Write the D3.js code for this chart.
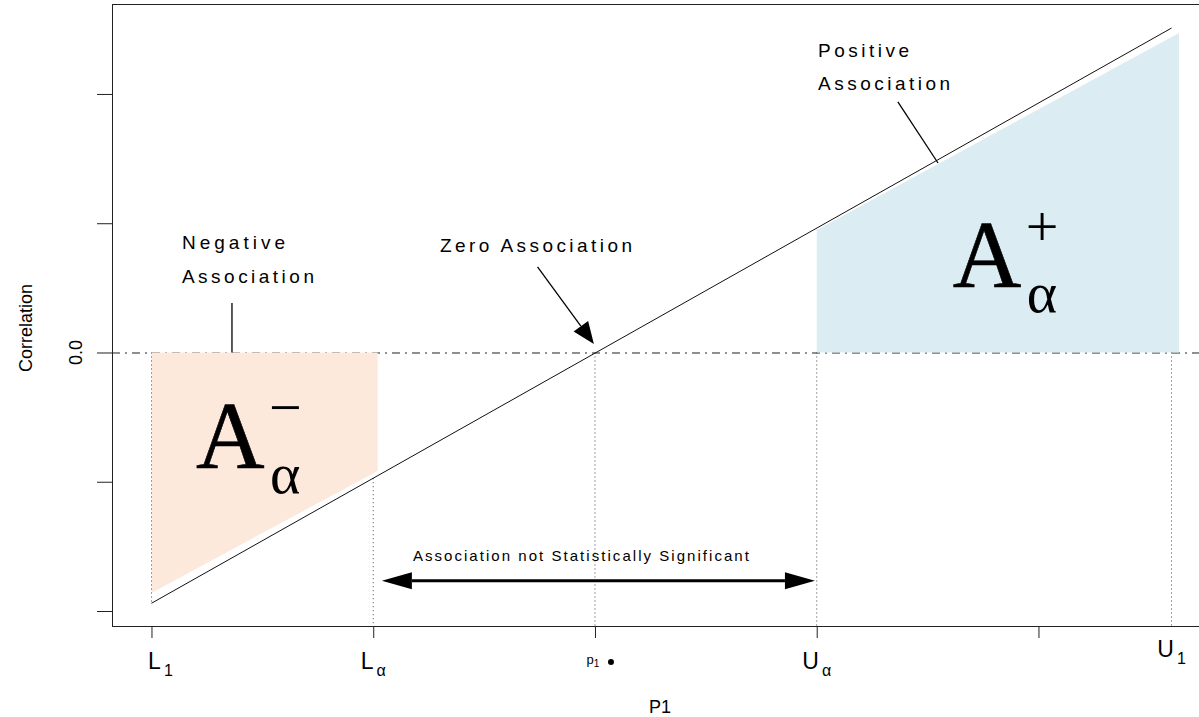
<!DOCTYPE html>
<html>
<head>
<meta charset="utf-8">
<script src="https://cdn.jsdelivr.net/npm/d3@7"></script>
<style>
  body { margin: 0; background: #fff; }
  svg { display: block; }
  text { font-family: "Liberation Sans", Arial, sans-serif; fill: #000; }
  .big { font-family: "Liberation Serif", "Times New Roman", serif; fill: #000; }
</style>
</head>
<body>
<div id="chart"></div>
<script>
// cut points along P1 (in tick units) and their labels
let cutoffs = [0, 1, 2, 3, 4.6];
let cutoffMain = ["L", "L", "p", "U", "U"];
let cutoffSub = ["1", "α", "1", "α", "1"];

let xTicks = [0, 1, 2, 3, 4];
let yTicks = [-1, -0.5, 0, 0.5, 1];
let yTickLabels = ["", "", "0.0", "", ""];

// correlation line end points
let lineP1 = [0, 4.6];
let lineCorr = [-0.97, 1.255];

// shaded regions (p1, correlation)
let negRegion = [[0, 0], [1.02, 0], [1.02, -0.458], [0, -0.93]];
let posRegion = [[3.0, 0], [3.0, 0.474], [4.634, 1.236], [4.634, 0]];


class AssociationChart {

    constructor(parentElement) {
        this.parentElement = parentElement;
        this.initVis();
    }

    initVis() {
        let vis = this;

        vis.width = 1199;
        vis.height = 717;
        vis.plot = {left: 112, top: 4, right: 1205, bottom: 626};

        vis.svg = d3.select("#" + vis.parentElement).append("svg")
            .attr("width", vis.width)
            .attr("height", vis.height);

        vis.x = d3.scaleLinear()
            .domain([-0.178, 4.751])
            .range([vis.plot.left, vis.plot.right]);

        vis.y = d3.scaleLinear()
            .domain([-1.058, 1.348])
            .range([vis.plot.bottom, vis.plot.top]);

        // straight line through the two end points
        vis.lineAt = d3.scaleLinear().domain(lineP1).range(lineCorr);

        vis.updateVis();
    }

    arrow(x1, y1, x2, y2, head, half, width, both) {
        let vis = this;
        let ang = Math.atan2(y2 - y1, x2 - x1);
        let c = Math.cos(ang), s = Math.sin(ang);

        let sx = both ? x1 + head * c : x1, sy = both ? y1 + head * s : y1;
        let ex = x2 - head * c, ey = y2 - head * s;

        vis.svg.append("line")
            .attr("x1", sx).attr("y1", sy)
            .attr("x2", ex).attr("y2", ey)
            .attr("stroke", "#000")
            .attr("stroke-width", width);

        let heads = [[x2, y2, ex, ey]];
        if (both) heads.push([x1, y1, sx, sy]);

        heads.forEach(([tx, ty, bx, by]) => {
            vis.svg.append("polygon")
                .attr("points", [
                    [tx, ty],
                    [bx + half * s, by - half * c],
                    [bx - half * s, by + half * c]
                ].map(p => p.join(",")).join(" "))
                .attr("fill", "#000");
        });
    }

    note(text, px, py, len, size) {
        let vis = this;
        vis.svg.append("text")
            .attr("x", vis.x(px))
            .attr("y", vis.y(py))
            .attr("textLength", len)
            .attr("lengthAdjust", "spacing")
            .style("font-size", size + "px")
            .text(text);
    }

    bigA(px, py, sign) {
        let vis = this;
        let ax = vis.x(px), ay = vis.y(py);

        vis.svg.append("text").attr("class", "big")
            .attr("x", ax).attr("y", ay)
            .style("font-size", "95px")
            .attr("stroke", "#000").attr("stroke-width", 0.6)
            .text("A");

        vis.svg.append("text").attr("class", "big")
            .attr("x", ax + 74).attr("y", ay + 25)
            .style("font-size", "58px")
            .text("α");

        vis.svg.append("text").attr("class", "big")
            .attr("x", ax + 73).attr("y", ay - 41)
            .style("font-size", "58px")
            .text(sign);
    }

    updateVis() {
        let vis = this;
        let x = vis.x, y = vis.y;

        // zero reference line (dot-dash)
        vis.svg.append("line")
            .attr("x1", vis.plot.left).attr("x2", vis.plot.right)
            .attr("y1", y(0) + 0.5).attr("y2", y(0) + 0.5)
            .attr("stroke", "#222")
            .attr("stroke-dasharray", "8,5,2,5");

        // shaded areas
        let area = d3.line().x(d => x(d[0])).y(d => y(d[1]));

        vis.svg.append("path")
            .attr("d", area(negRegion) + "Z")
            .attr("fill", "rgb(252,233,220)");

        vis.svg.append("path")
            .attr("d", area(posRegion) + "Z")
            .attr("fill", "rgb(219,237,243)");

        // dotted guides at each cut point
        cutoffs.forEach((c, i) => {
            let top = y(0), bottom = vis.plot.bottom;
            if (i === 0) bottom = y(vis.lineAt(c));
            if (i === 1) top = y(vis.lineAt(c));
            vis.svg.append("line")
                .attr("x1", x(c)).attr("x2", x(c))
                .attr("y1", top).attr("y2", bottom)
                .attr("stroke", "#444")
                .attr("stroke-dasharray", "1,3");
        });

        // the correlation line
        vis.svg.append("path")
            .attr("d", area(lineP1.map((p, i) => [p, lineCorr[i]])))
            .attr("fill", "none")
            .attr("stroke", "#111")
            .attr("stroke-width", 1);

        // frame
        vis.svg.append("rect")
            .attr("x", vis.plot.left + 0.5)
            .attr("y", vis.plot.top + 0.5)
            .attr("width", vis.plot.right - vis.plot.left)
            .attr("height", vis.plot.bottom - vis.plot.top)
            .attr("fill", "none")
            .attr("stroke", "#222");

        // axes (ticks only)
        vis.svg.append("g")
            .attr("transform", "translate(0," + vis.plot.bottom + ")")
            .attr("color", "#222")
            .call(d3.axisBottom(x).tickValues(xTicks).tickSize(12).tickFormat(""))
            .call(g => g.select(".domain").remove());

        vis.svg.append("g")
            .attr("transform", "translate(" + vis.plot.left + ",0)")
            .attr("color", "#222")
            .call(d3.axisLeft(y).tickValues(yTicks).tickSize(15).tickFormat(""))
            .call(g => g.select(".domain").remove());

        yTicks.forEach((t, i) => {
            if (!yTickLabels[i]) return;
            vis.svg.append("text")
                .attr("transform", "translate(82," + y(t) + ") rotate(-90)")
                .attr("text-anchor", "middle")
                .style("font-size", "18px")
                .text(yTickLabels[i]);
        });

        // x labels for the cut points
        let nudge = [9, 0, -2, 0, 0];
        cutoffs.forEach((c, i) => {
            let small = cutoffMain[i] === "p";
            let base = vis.plot.bottom + (i === 4 ? 31 : small ? 38 : 43);
            let t = vis.svg.append("text")
                .attr("x", x(c) + nudge[i])
                .attr("y", base)
                .attr("text-anchor", "middle")
                .style("font-size", small ? "13px" : "23px")
                .text(cutoffMain[i]);
            t.append("tspan")
                .attr("dx", small ? 0 : 3)
                .attr("dy", small ? 3 : 7)
                .style("font-size", small ? "10px" : "16px")
                .text(cutoffSub[i]);
        });

        // observed p1 point
        vis.svg.append("circle")
            .attr("cx", x(cutoffs[2]) + 16)
            .attr("cy", vis.plot.bottom + 36)
            .attr("r", 3)
            .attr("fill", "#000");

        // axis titles
        vis.svg.append("text")
            .attr("x", 660)
            .attr("y", 713)
            .attr("text-anchor", "middle")
            .style("font-size", "18px")
            .text("P1");

        vis.svg.append("text")
            .attr("transform", "translate(32,328) rotate(-90)")
            .attr("text-anchor", "middle")
            .style("font-size", "18px")
            .text("Correlation");

        // annotations
        vis.note("Negative", 0.1375, 0.4004, 103, 19);
        vis.note("Association", 0.1375, 0.2689, 132, 19);
        vis.note("Zero Association", 1.301, 0.3888, 192, 19);
        vis.note("Positive", 3.006, 1.143, 91, 19);
        vis.note("Association", 3.006, 1.015, 132, 19);
        vis.note("Association not Statistically Significant", 1.179, -0.807, 336, 15);

        // leader lines
        vis.svg.append("line")
            .attr("x1", x(0.363)).attr("y1", y(0.1915))
            .attr("x2", x(0.363)).attr("y2", y(0))
            .attr("stroke", "#000").attr("stroke-width", 1.3);

        vis.svg.append("line")
            .attr("x1", x(3.366)).attr("y1", y(0.969))
            .attr("x2", x(3.547)).attr("y2", y(0.733))
            .attr("stroke", "#000").attr("stroke-width", 1.3);

        // arrows
        vis.arrow(x(1.741), y(0.331), x(1.995), y(0.033), 22, 9, 1.3, false);
        vis.arrow(x(1.039), y(-0.883), x(2.992), y(-0.883), 30, 8.5, 3, true);

        // region labels
        vis.bigA(0.2007, -0.4468, "\u2212");
        vis.bigA(3.614, 0.2534, "+");
    }
}

new AssociationChart("chart");
</script>
</body>
</html>
